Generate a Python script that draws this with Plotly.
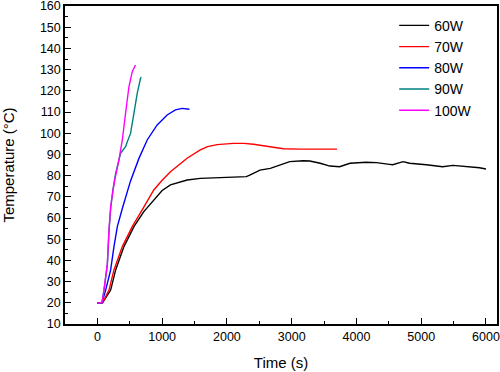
import plotly.graph_objects as go

# ---- data ----
t_60 = [0, 80, 205, 282, 410, 564, 717, 871, 1000, 1128, 1385, 1589, 1846, 2102, 2300, 2360, 2510,
        2670, 2820, 2970, 3180, 3280, 3440, 3590, 3740, 3900, 4150, 4310, 4510, 4560, 4720, 4820,
        5080, 5330, 5490, 5640, 5790, 5900, 6000]
T_60 = [20, 20, 26, 35.5, 46.5, 55.9, 63, 68.5, 73, 75.6, 77.9, 78.7, 79, 79.2, 79.5, 80.3, 82.6,
        83.4, 85, 86.6, 87, 86.9, 85.8, 84.5, 84.2, 85.8, 86.3, 86.1, 85.3, 85.1, 86.6, 85.8,
        85.1, 84.2, 84.8, 84.5, 84.2, 83.7, 83.1]

t_70 = [0, 80, 179, 256, 385, 538, 692, 871, 1000, 1128, 1385, 1589, 1700, 1850, 2100, 2260, 2410,
        2620, 2870, 3130, 3390, 3550, 3700]
T_70 = [20, 20, 26, 35.5, 46.5, 55.9, 63.8, 73.2, 77.8, 81.8, 88.2, 92.1, 93.7, 94.6, 95.2, 95.2, 94.8,
        93.7, 92.7, 92.5, 92.4, 92.6, 92.5]

t_80 = [0, 70, 128, 205, 256, 308, 385, 462, 512, 640, 769, 923, 1077, 1205, 1308, 1420]
T_80 = [20, 20, 26, 35.5, 46.5, 55.9, 64.5, 73.2, 77.5, 88, 96.8, 103.9, 108.6, 111, 111.7, 111.3]

t_90 = [0, 70, 102, 154, 179, 205, 241, 282, 358, 435, 462, 512, 564, 615, 666, 677]
T_90 = [20, 20, 26, 38, 53.5, 64.5, 73.5, 81.1, 90.5, 93.6, 96, 99.9, 109.4, 118.8, 125.9, 126.4]

t_100 = [0, 70, 102, 154, 179, 205, 241, 271, 333, 385, 435, 487, 538, 589]
T_100 = [20, 20, 26, 38.6, 54.3, 65.3, 73, 78.5, 87.4, 96.8, 109.4, 121.9, 129, 132.2]

series_names = ["60W", "70W", "80W", "90W", "100W"]
series_t = [t_60, t_70, t_80, t_90, t_100]
series_T = [T_60, T_70, T_80, T_90, T_100]
colors = ["#000000", "#FF0000", "#0000FF", "#008080", "#FF00FF"]

x_tick_vals = [0, 1000, 2000, 3000, 4000, 5000, 6000]
x_minor_vals = [-500, 500, 1500, 2500, 3500, 4500, 5500]
y_tick_vals = list(range(10, 161, 10))
y_minor_vals = list(range(15, 160, 10))

FONT = "Liberation Sans, Arial, sans-serif"

fig = go.Figure()
for name, tx, ty, c in zip(series_names, series_t, series_T, colors):
    fig.add_trace(go.Scatter(x=tx, y=ty, mode="lines", name=name,
                             line=dict(color=c, width=1.4)))

axis_common = dict(
    showline=True, linecolor="black", linewidth=1.5, mirror=True,
    showgrid=False, zeroline=False, automargin=False,
    ticklabeloverflow="allow",
    ticks="inside", ticklen=6, tickwidth=1.2, tickcolor="black",
    tickfont=dict(family=FONT, size=12.5, color="black"),
)
minor_common = dict(ticks="inside", ticklen=3, tickwidth=1.2, tickcolor="black")

fig.update_layout(
    width=500, height=372,
    margin=dict(l=65, r=3, t=6, b=48),
    paper_bgcolor="white", plot_bgcolor="white",
    font=dict(family=FONT, size=12, color="black"),
    showlegend=True,
    legend=dict(x=0.762, y=0.988, xanchor="left", yanchor="top",
                bgcolor="rgba(0,0,0,0)", borderwidth=0,
                font=dict(family=FONT, size=14, color="black")),
    xaxis=dict(range=[-500, 6170], tickvals=x_tick_vals,
               minor=dict(tickvals=x_minor_vals, **minor_common),
               title=dict(text="Time (s)", font=dict(family=FONT, size=15), standoff=15),
               **axis_common),
    yaxis=dict(range=[10, 160], tickvals=y_tick_vals,
               minor=dict(tickvals=y_minor_vals, **minor_common),
               title=dict(text="Temperature (°C)", font=dict(family=FONT, size=15), standoff=24),
               **axis_common),
)

fig.write_html("out.html", config={"displayModeBar": False},
               post_script="document.body.style.margin='0';document.body.style.overflow='hidden';")
